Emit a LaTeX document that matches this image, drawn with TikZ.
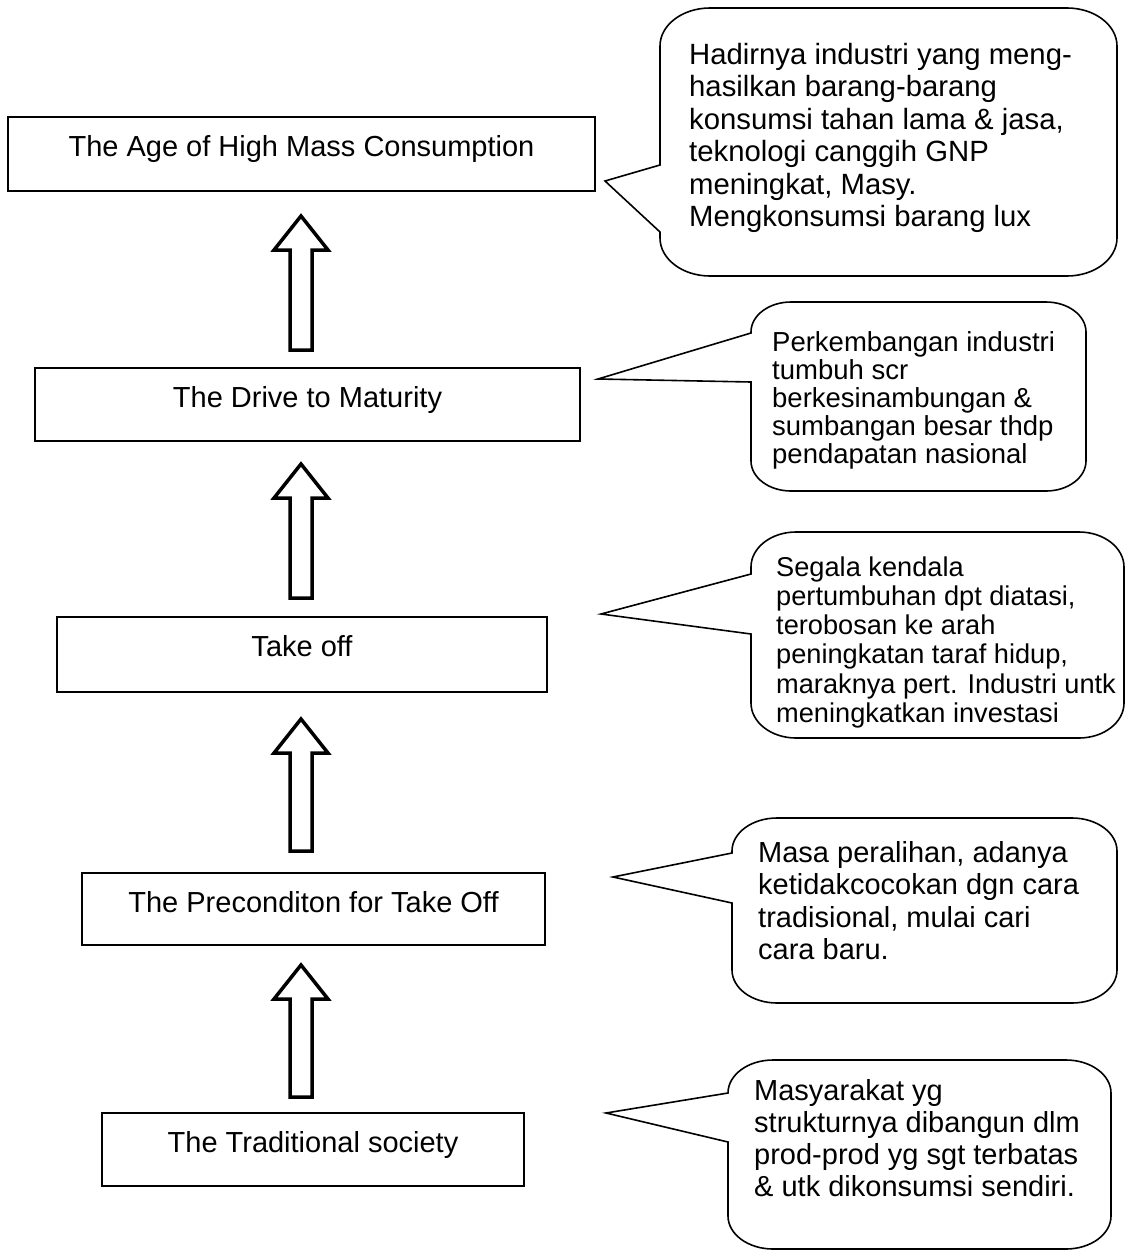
\documentclass[tikz,border=0pt]{standalone}
\usepackage{fontspec}
\setmainfont{Liberation Sans}
\begin{document}
\begin{tikzpicture}[x=1pt,y=-1pt,
  box/.style={draw, line width=1.5pt, rectangle, inner sep=0pt},
  boxtxt/.style={anchor=base, inner sep=0pt, font=\fontsize{29}{33}\selectfont},
  ctxt/.style={anchor=base west, inner sep=0pt},
  bubble/.style={draw, line width=1.6pt, line join=miter},
  pics/uparrow/.style={code={\draw[line width=3.5pt, line join=miter, miter limit=10]
     (0,0) -- (27,34) -- (11,34) -- (11,#1) -- (-11,#1) -- (-11,34) -- (-27,34) -- cycle;}}]
\fill[white] (0,0) rectangle (1127,1253);
\useasboundingbox (0,0) rectangle (1127,1253);

% stage boxes
\node[box, minimum width=587pt, minimum height=74pt] (b1) at (301.5,154) {};
\node[box, minimum width=545pt, minimum height=73pt] (b2) at (307.5,404.5) {};
\node[box, minimum width=490pt, minimum height=75pt] (b3) at (302,654.5) {};
\node[box, minimum width=463pt, minimum height=72pt] (b4) at (313.5,909) {};
\node[box, minimum width=422pt, minimum height=73pt] (b5) at (313,1149.5) {};

\node[boxtxt] (l1) at ([yshift=-40pt]b1.north) {The Age of High Mass Consumption};
\node[boxtxt] (l2) at ([yshift=-40pt]b2.north) {The Drive to Maturity};
\node[boxtxt] (l3) at ([yshift=-40pt]b3.north) {Take off};
\node[boxtxt] (l4) at ([yshift=-40pt]b4.north) {The Preconditon for Take Off};
\node[boxtxt] (l5) at ([yshift=-40pt]b5.north) {The Traditional society};

% block arrows
\pic at (301,216) {uparrow=134};
\pic at (301,464) {uparrow=134};
\pic at (301,719) {uparrow=132};
\pic at (301,965) {uparrow=132};

% callouts
\foreach \L/\R/\T/\B/\rx/\ry/\tx/\ty/\ya/\yb in {
  660/1117/8/276/50/38/605/181/165/232,
  751/1086/302/491/40/30/598/379/333/382,
  751/1124/532/738/45/35/601/614/574/634,
  732/1117/818/1003/45/33/613/877/853/903,
  728/1111/1060/1249/45/33/606/1113/1093/1142}{
  \draw[bubble] (\L,\ya) -- (\tx,\ty) -- (\L,\yb) -- (\L,\B-\ry)
    .. controls (\L,\B-0.448*\ry) and (\L+0.448*\rx,\B) .. (\L+\rx,\B)
    -- (\R-\rx,\B)
    .. controls (\R-0.448*\rx,\B) and (\R,\B-0.448*\ry) .. (\R,\B-\ry)
    -- (\R,\T+\ry)
    .. controls (\R,\T+0.448*\ry) and (\R-0.448*\rx,\T) .. (\R-\rx,\T)
    -- (\L+\rx,\T)
    .. controls (\L+0.448*\rx,\T) and (\L,\T+0.448*\ry) .. (\L,\T+\ry)
    -- cycle;
}

\node[ctxt] (c1) at (689,64) {\parbox[t]{500pt}{\fontsize{29.3}{32.5}\selectfont
  Hadirnya industri yang meng-\\hasilkan barang-barang\\konsumsi tahan lama \& jasa,\\teknologi canggih GNP\\meningkat, Masy.\\Mengkonsumsi barang lux}};
\node[ctxt] (c2) at (772,351) {\parbox[t]{500pt}{\fontsize{27.5}{28}\selectfont
  Perkembangan industri\\tumbuh scr\\berkesinambungan \&\\sumbangan besar thdp\\pendapatan nasional}};
\node[ctxt] (c3) at (776,576) {\parbox[t]{500pt}{\fontsize{27.2}{29.3}\selectfont
  Segala kendala\\pertumbuhan dpt diatasi,\\terobosan ke arah\\peningkatan taraf hidup,\\maraknya pert. Industri untk\\meningkatkan investasi}};
\node[ctxt] (c4) at (758,862) {\parbox[t]{500pt}{\fontsize{29}{32.5}\selectfont
  Masa peralihan, adanya\\ketidakcocokan dgn cara\\tradisional, mulai cari\\cara baru.}};
\node[ctxt] (c5) at (754,1100) {\parbox[t]{500pt}{\fontsize{29}{32}\selectfont
  Masyarakat yg\\strukturnya dibangun dlm\\prod-prod yg sgt terbatas\\\& utk dikonsumsi sendiri.}};
\end{tikzpicture}
\end{document}
